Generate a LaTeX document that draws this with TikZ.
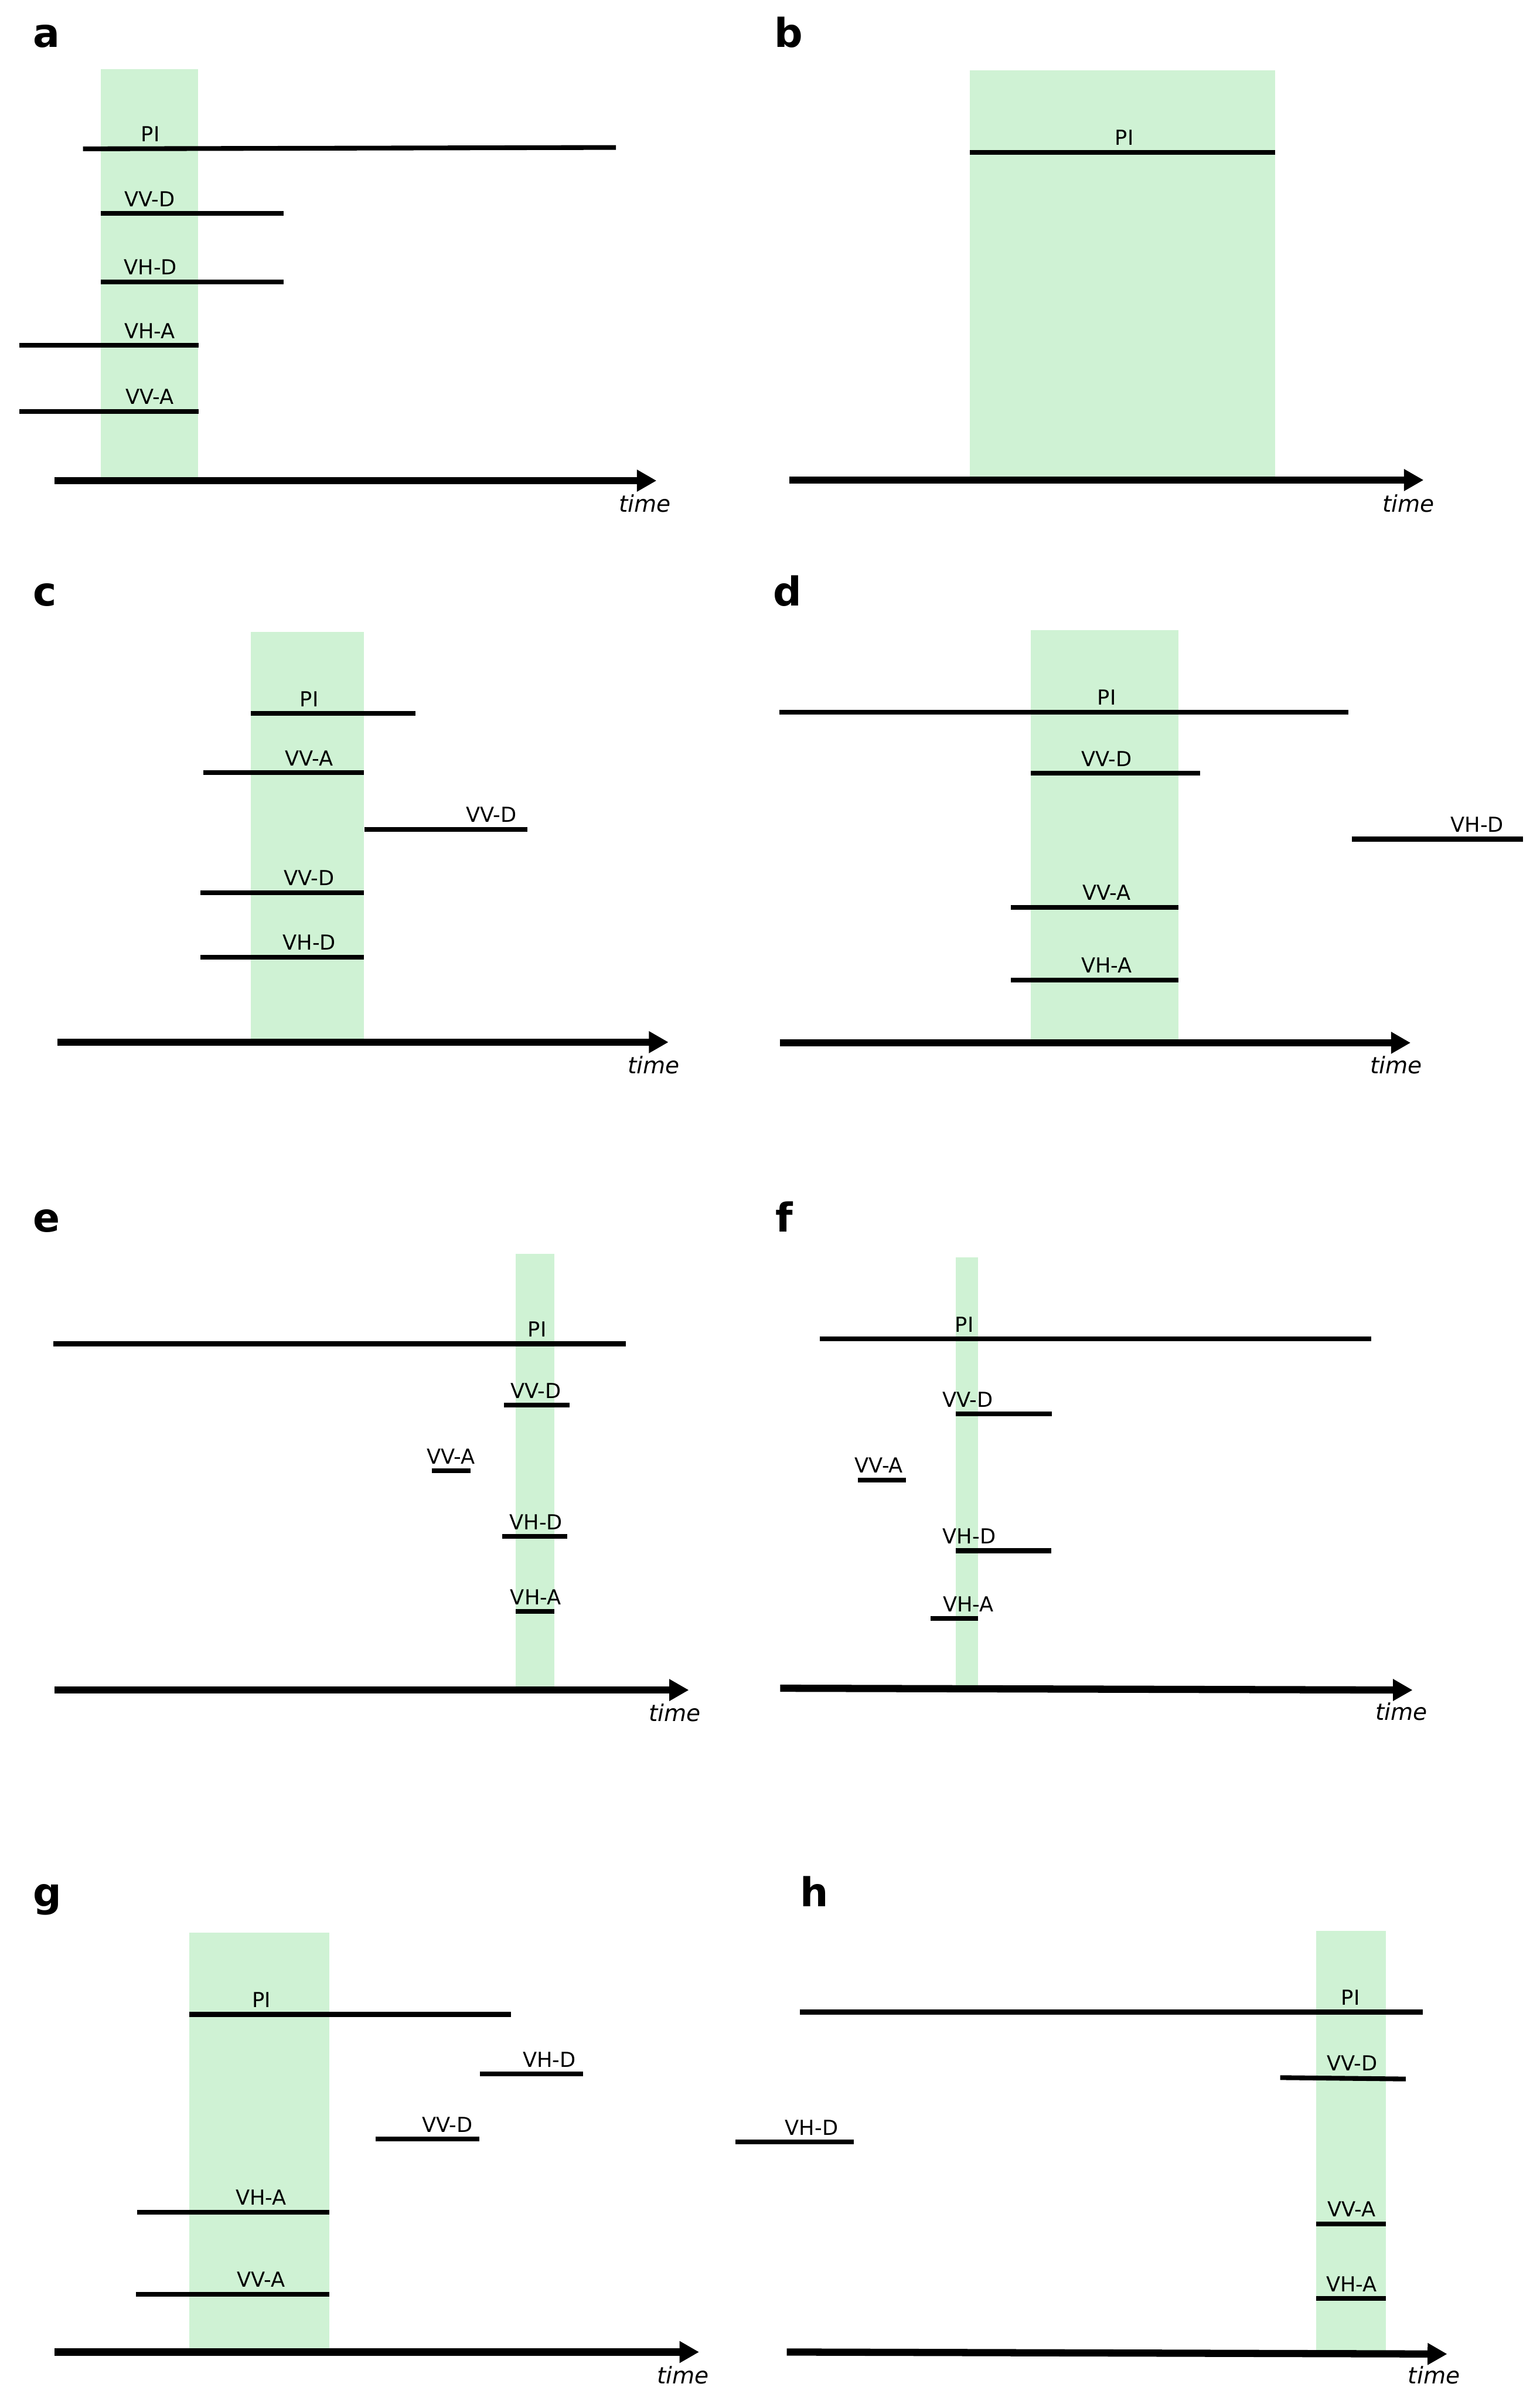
\documentclass[tikz,border=0pt]{standalone}
\usepackage{fontspec}
\setmainfont{DejaVu Sans}
\usepackage{tikz}
\usetikzlibrary{arrows.meta}
\definecolor{zonegreen}{RGB}{207,242,212}

\begin{document}
\begin{tikzpicture}[x=1pt, y=-1pt,
  zone/.style={fill=zonegreen},
  lane/.style={line width=3.1pt},
  axis/.style={line width=4.7pt, -{Triangle[length=12.8pt, width=13.5pt]}},
  lbl/.style={font=\fontsize{13.5}{13.5}\selectfont, inner sep=0pt},
  tlbl/.style={font=\fontsize{15}{15}\selectfont\itshape, inner sep=0pt},
  panel/.style={font=\fontsize{26}{26}\selectfont\bfseries, anchor=base west, inner sep=0pt}]
  \useasboundingbox (0,0) rectangle (1006,1568);

  % a
  \node[panel] (pa) at (21.5,31) {a};
  \fill[zone] (66,45) rectangle (129.5,313.9);
  \draw[lane] (54.2,97.2) -- (402.4,96.3); \node[lbl] (a-pi) at (98.3,87.5) {PI};
  \draw[lane] (66,139.5) -- (185.3,139.5); \node[lbl] (a-vvd) at (97.8,130) {VV-D};
  \draw[lane] (66,184) -- (185.3,184); \node[lbl] (a-vhd) at (98.3,174.5) {VH-D};
  \draw[lane] (12.8,225.5) -- (129.7,225.5); \node[lbl] (a-vha) at (97.8,216) {VH-A};
  \draw[lane] (12.8,268.7) -- (129.7,268.7); \node[lbl] (a-vva) at (97.8,259.2) {VV-A};
  \draw[axis] (35.6,313.9) -- (428.9,313.9); \node[tlbl] (a-time) at (421.2,328.7) {time};

  % b
  \node[panel] (pb) at (505.5,31) {b};
  \fill[zone] (633.6,46) rectangle (833,313.5);
  \draw[lane] (633.6,99.5) -- (833,99.5); \node[lbl] (b-pi) at (734.5,90) {PI};
  \draw[axis] (515.5,313.5) -- (930,313.5); \node[tlbl] (b-time) at (920,328.8) {time};

  % c
  \node[panel] (pc) at (21.5,395.5) {c};
  \fill[zone] (164,412.7) rectangle (237.6,680.6);
  \draw[lane] (164,466) -- (271.5,466); \node[lbl] (c-pi) at (202,456.5) {PI};
  \draw[lane] (132.7,504.6) -- (237.6,504.6); \node[lbl] (c-vva) at (202,495.1) {VV-A};
  \draw[lane] (238,541.6) -- (344.6,541.6); \node[lbl] (c-vvd2) at (321,532.1) {VV-D};
  \draw[lane] (131,583) -- (237.6,583); \node[lbl] (c-vvd) at (202,573.5) {VV-D};
  \draw[lane] (131,625) -- (237.6,625); \node[lbl] (c-vhd) at (202,615.5) {VH-D};
  \draw[axis] (37.5,680.6) -- (436.7,680.6); \node[tlbl] (c-time) at (427,695.5) {time};

  % d
  \node[panel] (pd) at (505,395.5) {d};
  \fill[zone] (673.5,411.5) rectangle (770,681);
  \draw[lane] (509,465) -- (881,465); \node[lbl] (d-pi) at (723,455.5) {PI};
  \draw[lane] (673.5,505) -- (784,505); \node[lbl] (d-vvd) at (723,495.5) {VV-D};
  \draw[lane] (883,548) -- (995,548); \node[lbl] (d-vhd) at (965,538.5) {VH-D};
  \draw[lane] (660.5,592.5) -- (770,592.5); \node[lbl] (d-vva) at (723,583) {VV-A};
  \draw[lane] (660.5,640) -- (770,640); \node[lbl] (d-vha) at (723,630.5) {VH-A};
  \draw[axis] (509.4,681) -- (921.5,681); \node[tlbl] (d-time) at (912,695.7) {time};

  % e
  \node[panel] (pe) at (21.5,804.5) {e};
  \fill[zone] (337,819) rectangle (362,1103.7);
  \draw[lane] (35,877.6) -- (408.7,877.6); \node[lbl] (e-pi) at (350.9,868.1) {PI};
  \draw[lane] (329.3,917.7) -- (372.2,917.7); \node[lbl] (e-vvd) at (350.2,908.2) {VV-D};
  \draw[lane] (282,960.6) -- (307.4,960.6); \node[lbl] (e-vva) at (294.7,951.1) {VV-A};
  \draw[lane] (328,1003.5) -- (370.6,1003.5); \node[lbl] (e-vhd) at (350.2,994) {VH-D};
  \draw[lane] (337,1052.4) -- (362,1052.4); \node[lbl] (e-vha) at (350,1042.9) {VH-A};
  \draw[axis] (35.6,1103.7) -- (450,1103.7); \node[tlbl] (e-time) at (440.8,1118.4) {time};

  % f
  \node[panel] (pf) at (506.5,804.5) {f};
  \fill[zone] (624.3,821) rectangle (639,1102.8);
  \draw[lane] (535.4,874.5) -- (895.8,874.5); \node[lbl] (f-pi) at (630,865) {PI};
  \draw[lane] (624.3,923.5) -- (687.2,923.5); \node[lbl] (f-vvd) at (632.3,914) {VV-D};
  \draw[lane] (560.5,966.5) -- (592,966.5); \node[lbl] (f-vva) at (574.2,957) {VV-A};
  \draw[lane] (624.3,1012.7) -- (686.6,1012.7); \node[lbl] (f-vhd) at (633.2,1003.2) {VH-D};
  \draw[lane] (608,1057) -- (639,1057); \node[lbl] (f-vha) at (632.6,1047.5) {VH-A};
  \draw[axis] (509.7,1102.5) -- (922.8,1103.7); \node[tlbl] (f-time) at (915.4,1117.6) {time};

  % g
  \node[panel] (pg) at (21.5,1245) {g};
  \fill[zone] (123.8,1262.3) rectangle (215.3,1536);
  \draw[lane] (123.8,1315.5) -- (333.8,1315.5); \node[lbl] (g-pi) at (170.9,1306) {PI};
  \draw[lane] (313.5,1354.4) -- (381,1354.4); \node[lbl] (g-vhd) at (358.9,1344.9) {VH-D};
  \draw[lane] (245.2,1397) -- (313.1,1397); \node[lbl] (g-vvd) at (292.2,1387.5) {VV-D};
  \draw[lane] (89.6,1444.7) -- (215.3,1444.7); \node[lbl] (g-vha) at (170.6,1435.2) {VH-A};
  \draw[lane] (89,1498.2) -- (215.3,1498.2); \node[lbl] (g-vva) at (170.6,1488.7) {VV-A};
  \draw[axis] (35.6,1536) -- (456.7,1536); \node[tlbl] (g-time) at (446.2,1551) {time};

  % h
  \node[panel] (ph) at (522.5,1245) {h};
  \fill[zone] (859.8,1261) rectangle (905.5,1536.5);
  \draw[lane] (522.5,1314) -- (929.4,1314); \node[lbl] (h-pi) at (882.3,1304.5) {PI};
  \draw[lane] (836.3,1356.8) -- (918.3,1357.7); \node[lbl] (h-vvd) at (883.3,1347.5) {VV-D};
  \draw[lane] (480.5,1398.8) -- (557.8,1398.8); \node[lbl] (h-vhd) at (530.2,1389.3) {VH-D};
  \draw[lane] (859.8,1452.2) -- (905.5,1452.2); \node[lbl] (h-vva) at (883,1442.7) {VV-A};
  \draw[lane] (859.8,1501) -- (905.5,1501); \node[lbl] (h-vha) at (883,1491.5) {VH-A};
  \draw[axis] (514,1536) -- (945.4,1537.3); \node[tlbl] (h-time) at (936.8,1551) {time};
\end{tikzpicture}
\end{document}
